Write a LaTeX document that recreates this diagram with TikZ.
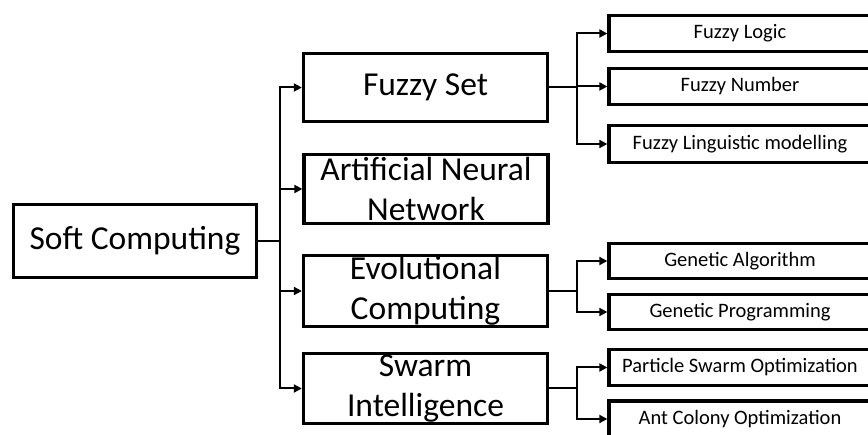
\documentclass[tikz,border=0pt]{standalone}
\usepackage{fontspec}
\setmainfont{Carlito}
\usetikzlibrary{arrows.meta}
\tikzset{
  bigbox/.style={draw=black, line width=3.3pt, minimum width=244pt, inner sep=0pt, align=center,
    font=\fontsize{33.5}{40}\selectfont},
  smallbox/.style={draw=black, line width=3.3pt, minimum width=262pt, minimum height=36pt, inner sep=0pt,
    font=\fontsize{20.5}{24}\selectfont},
  conn/.style={line width=2pt},
  arr/.style={line width=2pt, -{Triangle[length=8pt,width=8pt]}},
}
\begin{document}
\begin{tikzpicture}[x=1pt,y=-1pt]
\useasboundingbox (0,0) rectangle (868,435);
\clip (0,0) rectangle (868,435);
\node[bigbox, minimum width=243pt, minimum height=73pt] (soft) at (135,241) {Soft Computing};
\node[bigbox, minimum height=68pt] (fs) at (425.5,87.5) {Fuzzy Set};
\node[bigbox, minimum height=69pt] (ann) at (426,189) {Artificial Neural\\Network};
\node[bigbox, minimum height=71pt] (evo) at (425.5,291) {Evolutional\\Computing};
\node[bigbox, minimum height=70pt] (swarm) at (425.5,388.5) {Swarm\\Intelligence};
\node[smallbox] (fl) at (740,33.5) {Fuzzy Logic};
\node[smallbox] (fn) at (740,86.5) {Fuzzy Number};
\node[smallbox, minimum height=37pt] (flm) at (740,144) {Fuzzy Linguistic modelling};
\node[smallbox, minimum height=35pt] (ga) at (740,261) {Genetic Algorithm};
\node[smallbox, minimum height=35pt] (gp) at (740,312) {Genetic Programming};
\node[smallbox] (pso) at (740,367.5) {Particle Swarm Optimization};
\node[smallbox] (aco) at (740,419) {Ant Colony Optimization};
% trunk
\coordinate (xt) at (280,0);
\coordinate (xb) at (577,0);
\coordinate (trunk) at (soft.east -| xt);
\draw[conn] (soft.east) -- (trunk);
\draw[arr] (trunk) |- (fs.west);
\draw[arr] (trunk) |- (ann.west);
\draw[arr] (trunk) |- (evo.west);
\draw[arr] (trunk) |- (swarm.west);
% fuzzy branch
\coordinate (b1) at (fs.east -| xb);
\draw[conn] (fs.east) -- (b1);
\draw[arr] (b1) |- (fl.west);
\draw[arr] (b1) |- (fn.west);
\draw[arr] (b1) |- (flm.west);
% evolutional branch
\coordinate (b2) at (evo.east -| xb);
\draw[conn] (evo.east) -- (b2);
\draw[arr] (b2) |- (ga.west);
\draw[arr] (b2) |- (gp.west);
% swarm branch
\coordinate (b3) at (swarm.east -| xb);
\draw[conn] (swarm.east) -- (b3);
\draw[arr] (b3) |- (pso.west);
\draw[arr] (b3) |- (aco.west);
\end{tikzpicture}
\end{document}
